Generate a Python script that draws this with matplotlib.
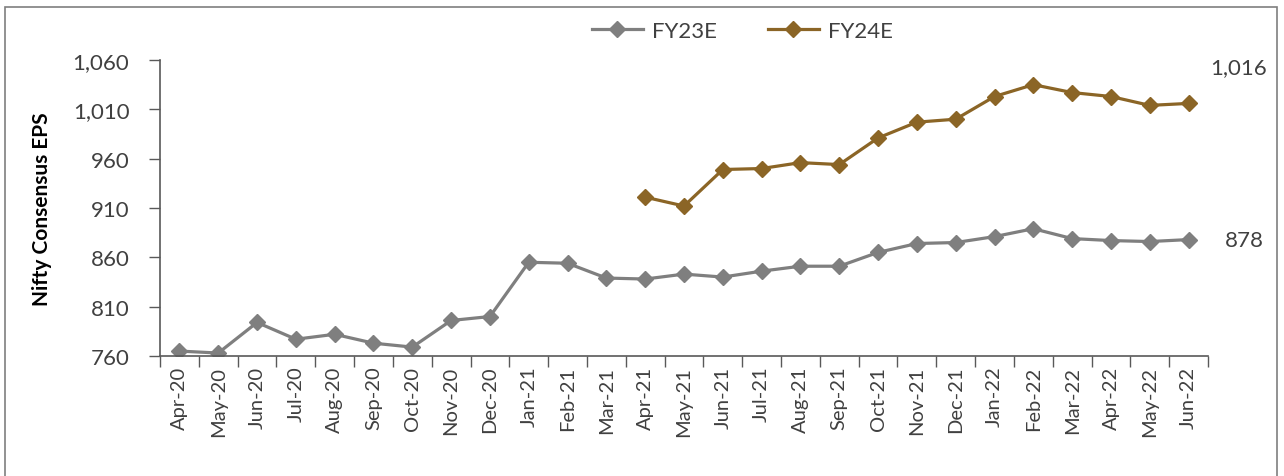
import numpy as np
import matplotlib
matplotlib.use('Agg')
import matplotlib.pyplot as plt
from matplotlib.patches import Rectangle
from matplotlib.ticker import FuncFormatter

plt.rcParams['font.family'] = ['Lato', 'DejaVu Sans']

months = ['Apr-20', 'May-20', 'Jun-20', 'Jul-20', 'Aug-20', 'Sep-20', 'Oct-20',
          'Nov-20', 'Dec-20', 'Jan-21', 'Feb-21', 'Mar-21', 'Apr-21', 'May-21',
          'Jun-21', 'Jul-21', 'Aug-21', 'Sep-21', 'Oct-21', 'Nov-21', 'Dec-21',
          'Jan-22', 'Feb-22', 'Mar-22', 'Apr-22', 'May-22', 'Jun-22']

fy23e = [765, 763, 794, 777, 782, 773, 769, 796, 800, 855, 854, 839, 838, 843,
         840, 846, 851, 851, 865, 874, 875, 881, 889, 879, 877, 876, 878]

# FY24E starts in Apr-21
fy24e_start = 12
fy24e = [921, 912, 949, 950, 956, 954, 981, 997, 1000, 1023, 1035, 1027, 1023,
         1014, 1016]

gray = '#7f7f7f'
brown = '#8b6526'
txt = '#404040'

fig = plt.figure(figsize=(12.84, 4.77), dpi=100)
ax = fig.add_axes([160 / 1284, 1 - 357 / 477, 1048 / 1284, 296 / 477])

x23 = np.arange(len(fy23e))
x24 = np.arange(fy24e_start, fy24e_start + len(fy24e))
ax.plot(x23, fy23e, color=gray, lw=2.3, marker='D', ms=8.5, label='FY23E')
ax.plot(x24, fy24e, color=brown, lw=2.3, marker='D', ms=8.5, label='FY24E')

ax.set_xlim(-0.5, len(months) - 0.5)
ax.set_ylim(760, 1060)
ax.set_yticks(np.arange(760, 1061, 50))
ax.yaxis.set_major_formatter(FuncFormatter(lambda v, p: f'{int(v):,}'))

# ticks at category boundaries, labels at centres
ax.set_xticks(np.arange(-0.5, len(months)))
ax.set_xticklabels([])
ax.set_xticks(np.arange(len(months)), minor=True)
ax.set_xticklabels(months, minor=True, rotation=90, fontsize=14.5, color=txt)
ax.tick_params(axis='x', which='major', length=8, width=1, color='#595959')
ax.tick_params(axis='x', which='minor', length=0, pad=7)
ax.tick_params(axis='y', length=8, width=1, color='#595959', labelsize=16,
               labelcolor=txt, pad=14)

for s in ['top', 'right']:
    ax.spines[s].set_visible(False)
for s in ['left', 'bottom']:
    ax.spines[s].set_color('#595959')
    ax.spines[s].set_linewidth(1.2)

ax.set_ylabel('Nifty Consensus EPS', fontsize=15, fontweight='bold', color='black')
ax.yaxis.set_label_coords((52 - 160) / 1048, 0.5)

ax.annotate(f'{fy24e[-1]:,}', xy=(x24[-1], fy24e[-1]), xytext=(36, 26),
            textcoords='offset points', ha='center', va='center', fontsize=16, color=txt)
ax.annotate(f'{fy23e[-1]:,}', xy=(x23[-1], fy23e[-1]), xytext=(40, 0),
            textcoords='offset points', ha='center', va='center', fontsize=16, color=txt)

fig.legend(loc='center', bbox_to_anchor=(742 / 1284, 1 - 32 / 477), ncol=2, frameon=False,
           fontsize=16, handlelength=2.3, columnspacing=2.3, labelcolor=txt,
           handletextpad=0.4)

fig.patches.append(Rectangle((5 / 1284, -0.05), 1272 / 1284, 1.05 - 8 / 477,
                             transform=fig.transFigure, fill=False,
                             edgecolor='#7f7f7f', lw=1.2))

fig.savefig('out.png', dpi=100)
